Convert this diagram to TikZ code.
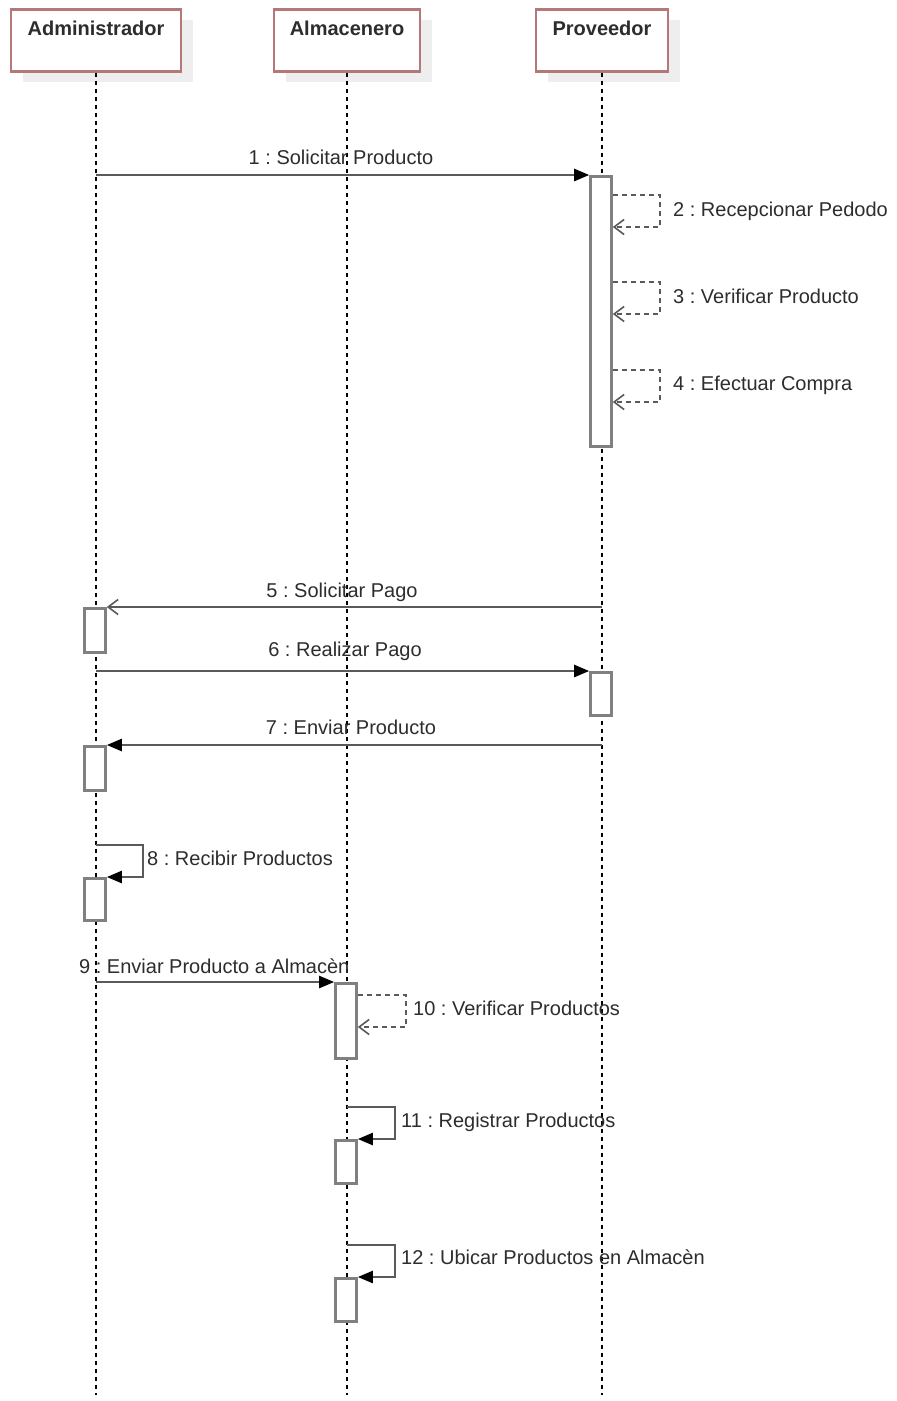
\documentclass[tikz,border=0pt]{standalone}
\usepackage{fontspec}
\setmainfont{Liberation Sans}
\usetikzlibrary{arrows.meta,shadows}
\definecolor{hdr}{RGB}{181,120,120}
\definecolor{shd}{RGB}{238,238,238}
\definecolor{ln}{RGB}{90,90,90}
\definecolor{txt}{RGB}{45,45,45}
\definecolor{actc}{RGB}{128,128,128}
\frenchspacing
\begin{document}
\begin{tikzpicture}[x=1pt,y=-1pt,
  head/.style={draw=hdr, line width=2.5pt, fill=white, inner sep=0pt, minimum height=62pt, anchor=north,
    drop shadow={shadow xshift=12pt, shadow yshift=-11pt, fill=shd, opacity=1, draw=none}},
  htext/.style={font=\fontsize{20}{24}\selectfont\bfseries, text=txt, inner sep=0pt, anchor=base},
  life/.style={draw=black, line width=1.4pt, dash pattern=on 4pt off 4pt},
  act/.style={draw=actc, line width=2.6pt, fill=white, minimum width=21pt, inner sep=0pt, anchor=north},
  msg/.style={draw=ln, line width=2.4pt, -{Triangle[length=15pt,width=12pt,color=black,fill=black]}},
  async/.style={draw=ln, line width=2.4pt, -{Straight Barb[length=10pt,width=15pt,color=ln,line width=1.6pt]}},
  ret/.style={draw=ln, line width=2.2pt, dash pattern=on 5pt off 4pt, -{Straight Barb[length=10pt,width=15pt,color=ln,line width=1.6pt]}},
  lbl/.style={font=\fontsize{20}{24}\selectfont, text=txt, inner sep=0pt}
]
\useasboundingbox (0,0) rectangle (897,1401);
\fill[white] (0,0) rectangle (897,1401);

% heads
\node[head, minimum width=170pt] (hA) at (96,8) {};
\node[head, minimum width=146pt] (hL) at (347,8) {};
\node[head, minimum width=132pt] (hP) at (602,8) {};
\node[htext] (tA) at (96,35) {Administrador};
\node[htext] (tL) at (347,35) {Almacenero};
\node[htext] (tP) at (602,35) {Proveedor};

% lifelines
\coordinate (eA) at (96,1395);
\coordinate (eL) at (347,1395);
\coordinate (eP) at (602,1395);
\draw[life] (hA.south) -- (eA);
\draw[life] (hL.south) -- (eL);
\draw[life] (hP.south) -- (eP);

% activations
\node[act, minimum height=270pt] (p1) at (601,175) {};
\node[act, minimum height=44pt] (a5) at (95,607) {};
\node[act, minimum height=43pt] (p6) at (601,671) {};
\node[act, minimum height=44pt] (a7) at (95,745) {};
\node[act, minimum height=42pt] (a8) at (95,877) {};
\node[act, minimum height=75pt] (l9) at (346,982) {};
\node[act, minimum height=43pt] (l11) at (346,1139) {};
\node[act, minimum height=43pt] (l12) at (346,1277) {};

% message start points
\coordinate (m1) at (96,175);
\coordinate (m5) at (602,607);
\coordinate (m6) at (96,671);
\coordinate (m7) at (602,745);
\coordinate (m8) at (96,845);
\coordinate (m9) at (96,982);
\coordinate (m11) at (347,1107);
\coordinate (m12) at (347,1245);

% messages
\draw[msg] (m1) -- (p1.north west);
\draw[ret] ([yshift=-20pt]p1.north east) -- ++(47,0) -- ++(0,32) -- ++(-47,0);
\draw[ret] ([yshift=-107pt]p1.north east) -- ++(47,0) -- ++(0,32) -- ++(-47,0);
\draw[ret] ([yshift=-195pt]p1.north east) -- ++(47,0) -- ++(0,32) -- ++(-47,0);
\draw[async] (m5) -- (a5.north east);
\draw[msg] (m6) -- (p6.north west);
\draw[msg] (m7) -- (a7.north east);
\draw[msg] (m8) -- ++(47,0) |- (a8.north east);
\draw[msg] (m9) -- (l9.north west);
\draw[ret] ([yshift=-13pt]l9.north east) -- ++(48,0) -- ++(0,32) -- ++(-48,0);
\draw[msg] (m11) -- ++(48,0) |- (l11.north east);
\draw[msg] (m12) -- ++(48,0) |- (l12.north east);

% labels
\node[lbl, anchor=base] (t1) at (341,164) {1 : Solicitar Producto};
\node[lbl, anchor=base west] (t2) at (673,216) {2 : Recepcionar Pedodo};
\node[lbl, anchor=base west] (t3) at (673,303) {3 : Verificar Producto};
\node[lbl, anchor=base west] (t4) at (673,390) {4 : Efectuar Compra};
\node[lbl, anchor=base] (t5) at (342,597) {5 : Solicitar Pago};
\node[lbl, anchor=base] (t6) at (345,656) {6 : Realizar Pago};
\node[lbl, anchor=base] (t7) at (351,734) {7 : Enviar Producto};
\node[lbl, anchor=base west] (t8) at (147,865) {8 : Recibir Productos};
\node[lbl, anchor=base west] (t9) at (79,973) {9 : Enviar Producto a Almacèn};
\node[lbl, anchor=base west] (t10) at (413,1015) {10 : Verificar Productos};
\node[lbl, anchor=base west] (t11) at (401,1127) {11 : Registrar Productos};
\node[lbl, anchor=base west] (t12) at (401,1264) {12 : Ubicar Productos en Almacèn};
\end{tikzpicture}
\end{document}
